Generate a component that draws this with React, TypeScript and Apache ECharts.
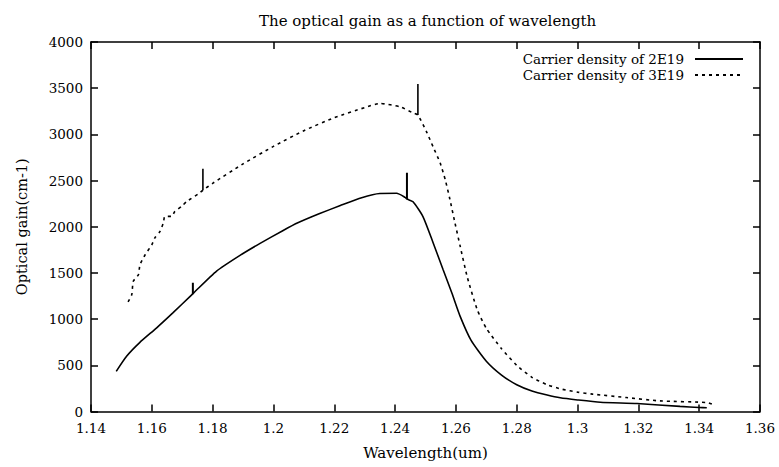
import React, { useEffect, useRef } from "react";
import * as echarts from "echarts";

// Wavelength (um) and optical gain (cm-1) for a carrier density of 2E19
const wavelength2E19 = [
  1.1483, 1.1517, 1.156, 1.1616, 1.167, 1.1726, 1.1738, 1.1813,
  1.189, 1.1956, 1.2032, 1.2082, 1.215, 1.222, 1.229, 1.235, 1.2405, 1.2433,
  1.2439, 1.2459, 1.2492, 1.2525, 1.2558, 1.2587, 1.2614, 1.265,
  1.27, 1.275, 1.28, 1.285, 1.29, 1.2943, 1.3, 1.3075, 1.3196, 1.3337, 1.34, 1.3425,
];
const gain2E19 = [
  435, 598, 746, 906, 1070, 1247, 1285, 1520,
  1690, 1820, 1960, 2045, 2140, 2230, 2315, 2360, 2362, 2318,
  2300, 2270, 2108, 1827, 1535, 1280, 1030, 770,
  545, 395, 290, 222, 178, 148, 125, 100, 86, 55, 43, 40,
];
// Narrow spikes on the 2E19 curve: position, foot and tip
const spikeAt2E19 = [1.1735, 1.2439];
const spikeBase2E19 = [1270, 2300];
const spikeTop2E19 = [1394, 2584];

// Wavelength (um) and optical gain (cm-1) for a carrier density of 3E19
const wavelength3E19 = [
  1.1522, 1.1534, 1.1539, 1.1556, 1.1561, 1.1578, 1.16, 1.161, 1.1627, 1.1638,
  1.1643, 1.1665, 1.1676, 1.1698, 1.1715, 1.1755, 1.1768, 1.18,
  1.19, 1.2, 1.21, 1.22, 1.23, 1.235, 1.2417, 1.2459, 1.2475,
  1.2505, 1.2525, 1.2548, 1.2565, 1.258, 1.2597, 1.2614, 1.2637, 1.267,
  1.27, 1.275, 1.28, 1.285, 1.29, 1.295, 1.3, 1.305, 1.316, 1.327, 1.3426, 1.3446,
];
const gain3E19 = [
  1186, 1265, 1409, 1481, 1589, 1697, 1805, 1880, 1950, 2043,
  2112, 2112, 2166, 2220, 2274, 2360, 2395, 2470,
  2680, 2870, 3040, 3180, 3290, 3335, 3297, 3232, 3210,
  3016, 2865, 2692, 2508, 2300, 2040, 1790, 1460, 1103,
  900, 680, 500, 370, 290, 240, 210, 188, 151, 115, 97, 76,
];
// Narrow spikes on the 3E19 curve: position, foot and tip
const spikeAt3E19 = [1.1768, 1.2475];
const spikeBase3E19 = [2395, 3210];
const spikeTop3E19 = [2627, 3546];

const seriesNames = ["Carrier density of 2E19", "Carrier density of 3E19"];
const xTicks = { min: 1.14, max: 1.36, step: 0.02 };
const yTicks = { min: 0, max: 4000, step: 500 };

const FONT = "DejaVu Serif";

function pairs(xs: number[], ys: number[]) {
  return xs.map((x, i) => [x, ys[i]]);
}

function spikeSeries(name: string, at: number[], base: number[], top: number[], lineStyle: object) {
  return at.map((x, i) => ({
    name,
    type: "line",
    symbol: "none",
    data: [
      [x, base[i]],
      [x, top[i]],
    ],
    lineStyle,
    itemStyle: { color: "#000" },
  }));
}

export default function App() {
  const ref = useRef<HTMLDivElement>(null);

  useEffect(() => {
    if (!ref.current) return;
    const chart = echarts.init(ref.current, null, { renderer: "svg" });

    const frame = { show: true, onZero: false, lineStyle: { color: "#000", width: 1.5 } };
    const ticks = { show: true, inside: true, length: 7, lineStyle: { color: "#000", width: 1.5 } };
    const labelStyle = { color: "#000", fontFamily: FONT, fontSize: 13.5 };
    const solid = { color: "#000", width: 1.6 };
    const dashed = { color: "#000", width: 1.6, type: [3, 4] };

    // one legend row per series, placed in the top right corner of the plot
    const legendRow = (name: string, top: number) => ({
      orient: "vertical",
      right: 35,
      top,
      align: "right",
      itemWidth: 48,
      itemHeight: 8,
      padding: 0,
      data: [name],
      itemStyle: { opacity: 0 },
      textStyle: { ...labelStyle, fontSize: 13.5, lineHeight: 13, padding: [0, 6, 0, 0] },
    });

    chart.setOption({
      animation: false,
      backgroundColor: "#fff",
      title: {
        text: "The optical gain as a function of wavelength",
        left: 254,
        top: 8,
        textStyle: { color: "#000", fontFamily: FONT, fontSize: 15, fontWeight: "normal" },
      },
      legend: [legendRow(seriesNames[0], 52), legendRow(seriesNames[1], 68)],
      grid: { left: 91, right: 19, top: 42, bottom: 55.5 },
      xAxis: [
        {
          type: "value",
          min: xTicks.min,
          max: xTicks.max,
          interval: xTicks.step,
          name: "Wavelength(um)",
          nameLocation: "middle",
          nameGap: 34,
          nameTextStyle: { ...labelStyle, fontSize: 15 },
          axisLine: frame,
          axisTick: ticks,
          splitLine: { show: false },
          axisLabel: {
            ...labelStyle,
            margin: 9,
            formatter: (v: number) => String(+v.toFixed(2)),
          },
        },
        {
          type: "value",
          position: "top",
          min: xTicks.min,
          max: xTicks.max,
          interval: xTicks.step,
          axisLine: frame,
          axisTick: ticks,
          axisLabel: { show: false },
          splitLine: { show: false },
        },
      ],
      yAxis: [
        {
          type: "value",
          min: yTicks.min,
          max: yTicks.max,
          interval: yTicks.step,
          name: "Optical gain(cm-1)",
          nameLocation: "middle",
          nameGap: 62,
          nameTextStyle: { ...labelStyle, fontSize: 14.5 },
          axisLine: frame,
          axisTick: ticks,
          splitLine: { show: false },
          axisLabel: { ...labelStyle, margin: 8, formatter: (v: number) => String(v) },
        },
        {
          type: "value",
          position: "right",
          min: yTicks.min,
          max: yTicks.max,
          interval: yTicks.step,
          axisLine: frame,
          axisTick: ticks,
          axisLabel: { show: false },
          splitLine: { show: false },
        },
      ],
      series: [
        {
          name: seriesNames[0],
          type: "line",
          symbol: "none",
          smooth: 0.2,
          data: pairs(wavelength2E19, gain2E19),
          lineStyle: solid,
          itemStyle: { color: "#000" },
        },
        {
          name: seriesNames[1],
          type: "line",
          symbol: "none",
          smooth: 0.2,
          data: pairs(wavelength3E19, gain3E19),
          lineStyle: dashed,
          itemStyle: { color: "#000" },
        },
        ...spikeSeries(seriesNames[0], spikeAt2E19, spikeBase2E19, spikeTop2E19, { ...solid, width: 2 }),
        ...spikeSeries(seriesNames[1], spikeAt3E19, spikeBase3E19, spikeTop3E19, { ...solid, width: 1.6 }),
      ],
    });

    return () => chart.dispose();
  }, []);

  return (
    <div
      ref={ref}
      style={{ position: "fixed", left: 0, top: 0, width: 779, height: 467, background: "#fff" }}
    />
  );
}
